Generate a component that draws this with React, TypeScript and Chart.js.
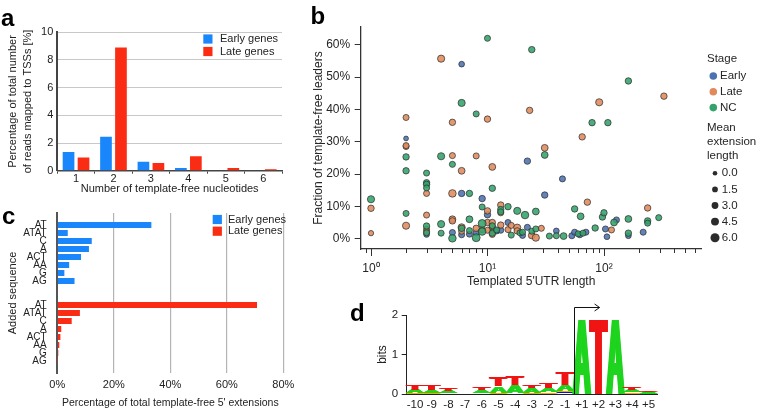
import React, { useEffect, useRef } from 'react';
import { Chart, registerables } from 'chart.js';

Chart.register(...registerables);

const FONT = "'Liberation Sans', Arial, Helvetica, sans-serif";
const TXT = '#222222';
Chart.defaults.font.family = FONT;
Chart.defaults.color = TXT;

// ---------- Panel a: template-free nucleotides ----------
const nucleotideCounts = ['1', '2', '3', '4', '5', '6'];
const earlyReadsPct = [1.35, 2.45, 0.65, 0.2, 0, 0];
const lateReadsPct = [0.95, 8.9, 0.55, 1.05, 0.2, 0.1];

// ---------- Panel c: added sequences ----------
const addedSeqs = ['AT', 'ATAT', 'C', 'A', 'ACT', 'AA', 'G', 'AG'];
const earlyExtPct = [33.3, 3.7, 12.2, 11.2, 8.4, 4.2, 2.5, 6.1];
const lateExtPct = [70.7, 8.0, 5.1, 1.4, 1.1, 0.7, 0.35, 0.05];
const extTicks = [0, 20, 40, 60, 80];

// ---------- Panel b: [templated 5'UTR length, % template-free leaders, mean extension length] ----------
const stageNames = ['Early', 'Late', 'NC'];
const earlyLeaders = [
  [2, 31, 0.3], [3, 1.3, 1.5], [5, 1.9, 2], [6, 54, 1.5], [6, 14, 2.5], [6, 1.2, 2],
  [7, 1.4, 2], [8, 1.8, 2], [9, 12.4, 2.5], [10, 7.4, 2.5], [11, 2.5, 2], [12, 2.4, 2],
  [13, 2.6, 2], [15, 5, 2], [20, 1, 2], [22, 24, 2.5], [22, 3.5, 2], [31, 13.5, 2.5],
  [39, 2.4, 1.5], [44, 18.5, 2], [53, 0.9, 2], [56, 2, 2], [62, 1.2, 2], [70, 2, 2],
  [103, 3, 2], [106, 0.6, 1.5], [128, 5.8, 2], [162, 0.9, 1.5], [217, 2, 2],
];
const lateLeaders = [
  [1, 9.4, 2.5], [1, 1.7, 1], [2, 37.5, 2], [2, 28.5, 2], [2, 28.8, 2], [2, 4, 3.5],
  [3, 14, 2], [3, 7.3, 2], [3, 2.9, 2], [3, 2.2, 2], [4, 55.7, 3.5], [5, 36, 2.5],
  [5, 25.7, 2], [5, 14, 4], [5, 6, 3], [5, 5.5, 2.5], [6, 21, 3], [6, 3.5, 3.5],
  [6, 2.3, 2], [8, 25.6, 2], [8, 3.2, 2.5], [9, 2.8, 2], [10, 37, 2.5], [10, 8.6, 2.5],
  [10, 5, 2.5], [10, 2.6, 2], [11, 22.2, 3], [11, 5, 2.5], [11, 3.7, 2.5], [11, 1.3, 2],
  [13, 10.4, 2.5], [13, 8, 2], [13, 4.2, 2.5], [15, 2.8, 2], [16, 4.1, 2], [18, 3.4, 3.5],
  [18, 2.4, 2.5], [23, 39.7, 2.5], [24, 1, 3], [26, 0.3, 3.5], [29, 3.2, 2], [31, 28.1, 3],
  [65, 31.5, 2.5], [72, 11.3, 2.5], [91, 42.2, 3.5], [116, 2.7, 2], [237, 9.5, 2.5], [327, 44.1, 2.5],
];
const ncLeaders = [
  [1, 12.2, 3.5], [2, 25.3, 2.5], [2, 21, 2.5], [2, 7.8, 2], [3, 20.3, 2], [3, 17.3, 2.5],
  [3, 16.8, 2.5], [3, 15.7, 2], [3, 3.9, 2.5], [3, 1.8, 2], [4, 25.5, 3.5], [4, 4.5, 3.5],
  [4, 1.7, 2], [5, 23, 2], [5, 0.1, 4], [6, 42, 3.5], [6, 3.2, 2.5], [7, 14, 2.5],
  [7, 6, 3], [7, 2.5, 2], [8, 38.6, 2], [8, 0.3, 4.5], [9, 9.8, 2], [9, 4.7, 4.5],
  [9, 2.2, 4], [10, 62, 2], [11, 15.6, 2.5], [11, 4, 2], [11, 1.7, 2.5], [12, 2.7, 2],
  [13, 9, 2.5], [13, 8.3, 2], [15, 9.9, 2.5], [16, 1.1, 2], [18, 8.6, 3.5], [19, 1.8, 2],
  [20, 2, 2], [21, 7.3, 4], [24, 58.5, 2.5], [24, 2.3, 2], [26, 8.4, 3], [26, 3, 2],
  [31, 25.9, 3], [34, 0.8, 2], [39, 0.9, 2], [45, 0.8, 3], [56, 9.2, 2.5], [60, 1.5, 2],
  [63, 6.9, 3], [66, 1.7, 2], [79, 35.9, 2.5], [84, 3.3, 2.5], [97, 6.7, 2.5], [100, 8, 2.5],
  [108, 35.9, 2.5], [122, 5, 3], [162, 6.1, 3], [162, 1.7, 2.5], [162, 48.8, 2.5], [237, 5.5, 2.5],
  [237, 4.8, 2], [295, 6.5, 2],
];
const extLegendValues = [0, 1.5, 3, 4.5, 6];
const fractionTicks = [0, 10, 20, 30, 40, 50, 60];
const utrTickValues = [
  0.9, 1, 2, 3, 4, 5, 6, 7, 8, 9, 10, 20, 30, 40, 50, 60, 70, 80, 90, 100, 200, 300, 400, 500, 600,
];
const decadeLabels: Record<number, string> = { 1: '10\u2070', 10: '10\u00B9', 100: '10\u00B2' };

// ---------- Panel d: sequence logo (bits) ----------
const logoPositions = ['-10', '-9', '-8', '-7', '-6', '-5', '-4', '-3', '-2', '-1', '+1', '+2', '+3', '+4', '+5'];
const bitsC = [0.01, 0.01, 0, 0, 0, 0.01, 0.01, 0.01, 0.01, 0.05, 0, 0, 0, 0.01, 0];
const bitsG = [0.02, 0.02, 0.02, 0, 0.02, 0.02, 0.01, 0.02, 0.04, 0.02, 0, 0, 0, 0.03, 0.01];
const bitsA = [0.08, 0.07, 0.05, 0.01, 0.07, 0.17, 0.2, 0.12, 0.1, 0.15, 1.92, 0.01, 1.92, 0.06, 0.05];
const bitsT = [0.14, 0.13, 0.05, 0.01, 0.05, 0.24, 0.22, 0.05, 0.12, 0.33, 0, 1.91, 0, 0.05, 0.03];

const EARLY_BAR = '#1a86fb';
const LATE_BAR = '#fb2c14';
const STAGE_COLORS = ['#4c72b0', '#e08a5c', '#33a36b'];
const LOGO_COLORS: Record<string, string> = { A: '#1ed41e', C: '#1010c8', G: '#f5a800', T: '#f01414' };

const extRadius = (e: number) => 2.3 + e * 0.37;
const withAlpha = (hex: string, a: number) => {
  const n = parseInt(hex.slice(1), 16);
  return `rgba(${(n >> 16) & 255},${(n >> 8) & 255},${n & 255},${a})`;
};

const panelLabel = (text: string, x: number, y: number) => ({
  id: 'panelLabel',
  afterDraw(chart: any) {
    const c = chart.ctx;
    c.save();
    c.font = `bold 24px ${FONT}`;
    c.fillStyle = '#000';
    c.textAlign = 'left';
    c.textBaseline = 'alphabetic';
    c.fillText(text, x, y);
    c.restore();
  },
});

const squareLegend = (x: number, y: number, gap: number, textX: number, size: number) => ({
  id: 'squareLegend',
  afterDraw(chart: any) {
    const c = chart.ctx;
    c.save();
    chart.data.datasets.forEach((ds: any, i: number) => {
      const cy = y + i * gap;
      c.fillStyle = ds.backgroundColor;
      c.fillRect(x, cy - 4.6, 9.2, 9.2);
      c.fillStyle = TXT;
      c.font = `${size}px ${FONT}`;
      c.textBaseline = 'middle';
      c.textAlign = 'left';
      c.fillText(ds.label, textX, cy);
    });
    c.restore();
  },
});

const logTicksPlugin = {
  id: 'logTicks',
  afterDraw(chart: any) {
    const s = chart.scales.x;
    const c = chart.ctx;
    c.save();
    c.strokeStyle = '#333';
    c.lineWidth = 1;
    s.ticks.forEach((t: any) => {
      const px = Math.round(s.getPixelForValue(t.value)) + 0.5;
      const lg = Math.log10(t.value);
      const major = Math.abs(lg - Math.round(lg)) < 1e-9;
      c.beginPath();
      c.moveTo(px, s.top);
      c.lineTo(px, s.top + (major ? 7 : 4));
      c.stroke();
    });
    c.restore();
  },
};

const bLegendPlugin = {
  id: 'bLegend',
  afterDraw(chart: any) {
    const c = chart.ctx;
    const ox = 296;
    c.save();
    c.font = `11.5px ${FONT}`;
    c.fillStyle = '#262626';
    c.textBaseline = 'middle';
    c.textAlign = 'left';
    c.fillText('Stage', 707 - ox, 59);
    stageNames.forEach((name, i) => {
      const cy = 76 + i * 15.8;
      c.beginPath();
      c.arc(713.3 - ox, cy, 3.8, 0, Math.PI * 2);
      c.fillStyle = STAGE_COLORS[i];
      c.fill();
      c.fillStyle = '#262626';
      c.fillText(name, 720 - ox, cy);
    });
    ['Mean', 'extension', 'length'].forEach((w, i) => c.fillText(w, 707 - ox, 128.3 + i * 13.9));
    extLegendValues.forEach((v, i) => {
      const cy = 173.3 + i * 16.1;
      c.beginPath();
      c.arc(715 - ox, cy, extRadius(v), 0, Math.PI * 2);
      c.fillStyle = '#2b2b2b';
      c.fill();
      c.fillStyle = '#262626';
      c.fillText(v.toFixed(1), 721.7 - ox, cy);
    });
    c.restore();
  },
};

const BOLD_OFFSETS = [-1.5, -1, -0.5, 0, 0.5, 1, 1.5];

const logoLettersPlugin = {
  id: 'logoLetters',
  afterDatasetsDraw(chart: any) {
    const c = chart.ctx;
    c.save();
    c.font = `bold 100px ${FONT}`;
    c.textAlign = 'left';
    c.textBaseline = 'alphabetic';
    chart.data.datasets.forEach((ds: any, di: number) => {
      const meta = chart.getDatasetMeta(di);
      const m = c.measureText(ds.label);
      const gw = m.actualBoundingBoxLeft + m.actualBoundingBoxRight;
      const gh = m.actualBoundingBoxAscent + m.actualBoundingBoxDescent;
      meta.data.forEach((el: any) => {
        const { x, y, base, width } = el.getProps(['x', 'y', 'base', 'width'], true);
        const h = base - y;
        if (!(h > 0.4)) return;
        const w = width * 1.15 - 3;
        BOLD_OFFSETS.forEach((dx) => {
          c.save();
          c.translate(x - w / 2 + dx, base);
          c.scale(w / gw, h / gh);
          c.fillStyle = LOGO_COLORS[ds.label];
          c.fillText(ds.label, m.actualBoundingBoxLeft, -m.actualBoundingBoxDescent);
          c.restore();
        });
      });
    });
    c.restore();
  },
};

const tssArrowPlugin = {
  id: 'tssArrow',
  afterDatasetsDraw(chart: any) {
    const xs = chart.scales.x;
    const ys = chart.scales.y;
    const i1 = logoPositions.indexOf('+1');
    const x0 = Math.round((xs.getPixelForValue(i1 - 1) + xs.getPixelForValue(i1)) / 2) + 0.5;
    const x1 = xs.getPixelForValue(i1 + 1) + 1;
    const yTop = Math.round(ys.getPixelForValue(2.2)) + 0.5;
    const yBot = ys.getPixelForValue(0);
    const c = chart.ctx;
    c.save();
    c.strokeStyle = '#111';
    c.lineWidth = 1;
    c.beginPath();
    c.moveTo(x0, yBot);
    c.lineTo(x0, yTop);
    c.lineTo(x1, yTop);
    c.moveTo(x1 - 5, yTop - 3.5);
    c.lineTo(x1, yTop);
    c.lineTo(x1 - 5, yTop + 3.5);
    c.stroke();
    c.restore();
  },
};

const font = (size: number, extra: any = {}) => ({ family: FONT, size, ...extra });

export default function App() {
  const refA = useRef<HTMLCanvasElement>(null);
  const refB = useRef<HTMLCanvasElement>(null);
  const refC = useRef<HTMLCanvasElement>(null);
  const refD = useRef<HTMLCanvasElement>(null);

  useEffect(() => {
    const charts: Chart[] = [];

    // Panel a
    charts.push(
      new Chart(refA.current as HTMLCanvasElement, {
        type: 'bar',
        data: {
          labels: nucleotideCounts,
          datasets: [
            { label: 'Early genes', data: earlyReadsPct, backgroundColor: EARLY_BAR, barPercentage: 0.78, categoryPercentage: 0.8 },
            { label: 'Late genes', data: lateReadsPct, backgroundColor: LATE_BAR, barPercentage: 0.78, categoryPercentage: 0.8 },
          ],
        },
        options: {
          responsive: false,
          animation: false,
          layout: { padding: { top: 32.3, right: 18, left: 0, bottom: 0 } },
          plugins: { legend: { display: false }, tooltip: { enabled: false } },
          scales: {
            x: {
              grid: { offset: true, drawOnChartArea: false, drawTicks: true, tickLength: 3, color: '#444' },
              border: { color: '#444', width: 1.5 },
              ticks: { font: font(11), color: TXT, padding: -1, maxRotation: 0 },
              title: { display: true, text: 'Number of template-free nucleotides', font: font(11), color: TXT, padding: { top: 0, bottom: 1.4 } },
              afterFit: (s: any) => { s.height = 26.3; },
            },
            y: {
              min: 0,
              max: 10,
              ticks: { stepSize: 2, font: font(11), color: TXT, padding: 4 },
              grid: { color: '#c8c8c8', drawTicks: false },
              border: { color: '#444', width: 2 },
              title: {
                display: true,
                text: ['Percentage of total number', 'of reads mapped to TSSs [%]'],
                font: font(11, { lineHeight: 1.35 }),
                color: TXT,
                padding: { top: 5.6, bottom: 0 },
              },
              afterFit: (s: any) => { s.width = 57.3; },
            },
          },
        } as any,
        plugins: [squareLegend(203.3, 39, 12.5, 220, 11), panelLabel('a', 1, 25.5)],
      })
    );

    // Panel c
    const blanks = addedSeqs.map(() => null);
    const rowLabels = ['', ...addedSeqs, '', '', ...addedSeqs, ''];
    const earlyRows = [null, ...earlyExtPct, null, null, ...blanks, null];
    const lateRows = [null, ...blanks, null, null, ...lateExtPct, null];
    charts.push(
      new Chart(refC.current as HTMLCanvasElement, {
        type: 'bar',
        data: {
          labels: rowLabels,
          datasets: [
            { label: 'Early genes', data: earlyRows, backgroundColor: EARLY_BAR, barPercentage: 0.75, categoryPercentage: 1, grouped: false },
            { label: 'Late genes', data: lateRows, backgroundColor: LATE_BAR, barPercentage: 0.75, categoryPercentage: 1, grouped: false },
          ],
        },
        options: {
          indexAxis: 'y',
          responsive: false,
          animation: false,
          layout: { padding: { top: 16, right: 16.7, left: 0, bottom: 0 } },
          plugins: { legend: { display: false }, tooltip: { enabled: false } },
          scales: {
            x: {
              min: 0,
              max: 80,
              afterBuildTicks: (s: any) => { s.ticks = extTicks.map((v) => ({ value: v })); },
              ticks: { callback: (v: any) => `${v}%`, font: font(11), color: TXT, padding: 5, maxRotation: 0 },
              grid: {
                drawTicks: false,
                color: (ctx: any) => (ctx.tick && ctx.tick.value === 0 ? 'rgba(0,0,0,0)' : '#b4b4b4'),
                lineWidth: 1.2,
              },
              border: { display: false },
              title: { display: true, text: "Percentage of total template-free 5' extensions", font: font(10.5), color: TXT, padding: { top: 0, bottom: 1.4 } },
              afterFit: (s: any) => { s.height = 38; },
            },
            y: {
              ticks: { autoSkip: false, font: font(10, { lineHeight: 1 }), color: TXT, padding: 10.6 },
              grid: { display: false, drawTicks: false },
              border: { display: true, color: '#555', width: 2 },
              title: { display: true, text: 'Added sequence', font: font(11), color: TXT, padding: { top: 6.7, bottom: 0 } },
              afterFit: (s: any) => { s.width = 57.3; },
            },
          },
        } as any,
        plugins: [squareLegend(212.7, 22.5, 11.7, 228, 11), panelLabel('c', 2, 27)],
      })
    );

    // Panel b
    const toBubbles = (pts: number[][]) => pts.map(([x, y, e]) => ({ x, y, r: extRadius(e) }));
    const stageData = [earlyLeaders, lateLeaders, ncLeaders];
    charts.push(
      new Chart(refB.current as HTMLCanvasElement, {
        type: 'bubble',
        data: {
          datasets: stageNames.map((name, i) => ({
            label: name,
            data: toBubbles(stageData[i]),
            backgroundColor: withAlpha(STAGE_COLORS[i], 0.88),
            borderColor: 'rgba(45,45,45,0.9)',
            borderWidth: 0.8,
            order: 3 - i,
          })),
        },
        options: {
          responsive: false,
          animation: false,
          layout: { padding: { top: 27, right: 58.3, left: 0, bottom: 0 } },
          plugins: { legend: { display: false }, tooltip: { enabled: false } },
          scales: {
            x: {
              type: 'logarithmic',
              min: 0.816,
              max: 690,
              afterBuildTicks: (s: any) => { s.ticks = utrTickValues.map((v) => ({ value: v })); },
              ticks: { autoSkip: false, maxRotation: 0, callback: (v: any) => decadeLabels[v] ?? '', font: font(12), color: '#262626', padding: 12 },
              grid: { display: false, drawTicks: false },
              border: { display: true, color: '#333', width: 1.3 },
              title: { display: true, text: "Templated 5'UTR length", font: font(12), color: '#262626', padding: { top: 0, bottom: 3.4 } },
              afterFit: (s: any) => { s.height = 43; },
            },
            y: {
              min: -3.2,
              max: 65.5,
              afterBuildTicks: (s: any) => { s.ticks = fractionTicks.map((v) => ({ value: v })); },
              ticks: { callback: (v: any) => `${v}%`, font: font(12), color: '#262626', padding: 4.5 },
              grid: { drawOnChartArea: false, drawTicks: true, tickLength: 6, color: '#333' },
              border: { color: '#333', width: 1.3 },
              title: { display: true, text: 'Fraction of template-free leaders', font: font(12), color: '#262626', padding: { top: 15.7, bottom: 0 } },
              afterFit: (s: any) => { s.width = 64.7; },
            },
          },
        } as any,
        plugins: [logTicksPlugin, bLegendPlugin, panelLabel('b', 14.5, 24)],
      })
    );

    // Panel d
    const logoSets: [string, number[]][] = [['C', bitsC], ['G', bitsG], ['A', bitsA], ['T', bitsT]];
    charts.push(
      new Chart(refD.current as HTMLCanvasElement, {
        type: 'bar',
        data: {
          labels: logoPositions,
          datasets: logoSets.map(([letter, vals]) => ({
            label: letter,
            data: vals,
            backgroundColor: 'rgba(0,0,0,0)',
            borderWidth: 0,
            barPercentage: 1,
            categoryPercentage: 1,
          })),
        },
        options: {
          responsive: false,
          animation: false,
          layout: { padding: { top: 23, right: 103, left: 0, bottom: 0 } },
          plugins: { legend: { display: false }, tooltip: { enabled: false } },
          scales: {
            x: {
              stacked: true,
              grid: { display: false, drawTicks: false },
              border: { display: true, color: '#222', width: 1 },
              ticks: { font: font(11.5), color: TXT, padding: 4, autoSkip: false, maxRotation: 0 },
              afterFit: (s: any) => { s.height = 17; },
            },
            y: {
              stacked: true,
              min: 0,
              max: 2,
              ticks: { stepSize: 1, font: font(11.5), color: TXT, padding: 3.5 },
              grid: { drawOnChartArea: false, drawTicks: true, tickLength: 5, color: '#222' },
              border: { color: '#222', width: 1 },
              title: { display: true, text: 'bits', font: font(12), color: TXT, padding: { top: 35.4, bottom: 0 } },
              afterFit: (s: any) => { s.width = 66.7; },
            },
          },
        } as any,
        plugins: [logoLettersPlugin, tssArrowPlugin, panelLabel('d', 10, 28.5)],
      })
    );

    return () => charts.forEach((c) => c.destroy());
  }, []);

  const abs = (left: number, top: number) => ({ position: 'absolute' as const, left, top });

  return (
    <div style={{ position: 'absolute', left: 0, top: 0, width: 760, height: 411, background: '#ffffff', overflow: 'hidden' }}>
      <canvas ref={refA} width={300} height={197} style={abs(0, 0)} />
      <canvas ref={refC} width={300} height={214} style={abs(0, 197)} />
      <canvas ref={refB} width={464} height={292} style={abs(296, 0)} />
      <canvas ref={refD} width={420} height={119} style={abs(340, 292)} />
    </div>
  );
}
